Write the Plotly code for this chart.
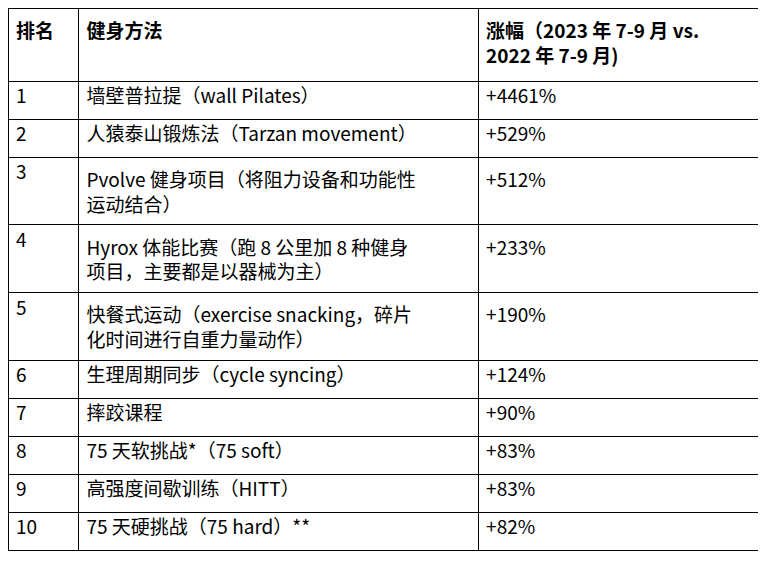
import plotly.graph_objects as go

header = ["<b>排名</b>", "<b>健身方法</b>", "<b>涨幅（2023 年 7-9 月 vs.<br>2022 年 7-9 月)</b>"]
ranks = [str(i) for i in range(1, 11)]
methods = [
    "墙壁普拉提（wall Pilates）",
    "人猿泰山锻炼法（Tarzan movement）",
    "Pvolve 健身项目（将阻力设备和功能性<br>运动结合）",
    "Hyrox 体能比赛（跑 8 公里加 8 种健身<br>项目，主要都是以器械为主）",
    "快餐式运动（exercise snacking，碎片<br>化时间进行自重力量动作）",
    "生理周期同步（cycle syncing）",
    "摔跤课程",
    "75 天软挑战*（75 soft）",
    "高强度间歇训练（HITT）",
    "75 天硬挑战（75 hard）**",
]
growth = ["+4461%", "+529%", "+512%<br> ", "+233%<br> ", "+190%<br> ",
          "+124%", "+90%", "+83%", "+83%", "+82%"]

font = dict(family="Noto Sans CJK SC, Noto Sans, sans-serif", size=19, color="black")

fig = go.Figure(go.Table(
    columnwidth=[70, 397, 286],
    header=dict(values=header, align="left", height=73,
                line=dict(color="black", width=1), fill_color="white",
                font=font),
    cells=dict(values=[ranks, methods, growth], align="left", height=38,
               line=dict(color="black", width=1), fill_color="white",
               font=font),
))
fig.update_layout(width=766, height=576, margin=dict(l=0, r=8, t=0, b=0),
                  paper_bgcolor="white")
fig.write_html("out.html")
